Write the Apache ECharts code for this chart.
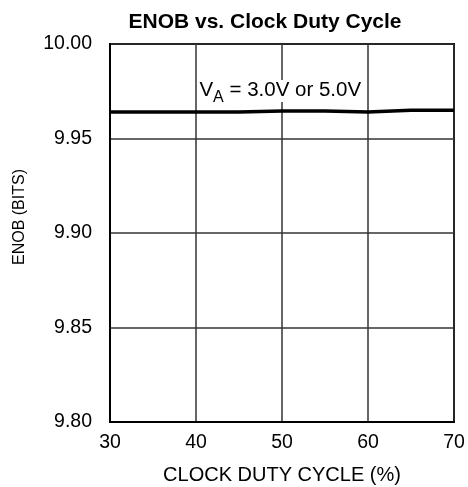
<!DOCTYPE html>
<html><head><meta charset="utf-8">
<script src="https://cdn.jsdelivr.net/npm/echarts@6/dist/echarts.min.js"></script>
<style>html,body{margin:0;padding:0;background:#fff}#c{width:468px;height:487px}</style>
</head><body><div id="c"></div>
<script>
var dutyCycle = [30, 35, 40, 45, 50, 55, 60, 65, 70];
var enob = [9.964, 9.964, 9.964, 9.964, 9.9645, 9.9645, 9.964, 9.965, 9.965];
var xTicks = [30, 40, 50, 60, 70];
var yTicks = ['9.80', '9.85', '9.90', '9.95', '10.00'];
var chart = echarts.init(document.getElementById('c'));
var F = '"Liberation Sans", Arial, sans-serif';
chart.setOption({
  animation: false,
  title: {text: 'ENOB vs. Clock Duty Cycle', left: 260, top: 7, textAlign: 'center',
    textStyle: {fontFamily: F, fontSize: 21, fontWeight: 'bold', color: '#000'}},
  graphic: [{type: 'text', x: 20, y: 217, rotation: Math.PI / 2,
    style: {text: 'ENOB (BITS)', fontFamily: F, fontSize: 16, fill: '#000', align: 'center', verticalAlign: 'middle'}}],
  grid: {left: 110, right: 14, top: 44, bottom: 65, show: true, borderColor: '#000', borderWidth: 2,
    outerBoundsMode: 'none', containLabel: false},
  xAxis: {type: 'value', min: 30, max: 70, interval: 10,
    name: 'CLOCK DUTY CYCLE (%)', nameLocation: 'middle', nameGap: 43,
    nameTextStyle: {fontFamily: F, fontSize: 20, color: '#000'},
    axisLine: {lineStyle: {color: '#000', width: 2}}, axisTick: {show: false},
    axisLabel: {fontFamily: F, fontSize: 19.5, color: '#000', margin: 11,
      formatter: function (v) { return xTicks.indexOf(v) >= 0 ? String(v) : ''; }},
    splitLine: {lineStyle: {color: '#333', width: 1.5}}},
  yAxis: {type: 'value', min: 9.8, max: 10.0, interval: 0.05,
    axisLine: {lineStyle: {color: '#000', width: 2}}, axisTick: {show: false},
    axisLabel: {fontFamily: F, fontSize: 19.5, color: '#000', margin: 18,
      formatter: function (v) { return yTicks[Math.round((v - 9.8) / 0.05)]; }},
    splitLine: {lineStyle: {color: '#333', width: 1.5}}},
  series: [{
    type: 'line', data: dutyCycle.map(function (x, i) { return [x, enob[i]]; }),
    showSymbol: false, lineStyle: {color: '#000', width: 3.5},
    markPoint: {symbol: 'rect', symbolSize: 0, data: [{coord: [49.8, 9.9751], label: {
      show: true, position: 'inside',
      formatter: '{v|V}{s|A}{v| = 3.0V or 5.0V}',
      backgroundColor: '#fff', padding: [0, 1, 0, 1],
      rich: {v: {fontFamily: F, fontSize: 20.5, lineHeight: 22, color: '#000', verticalAlign: 'top'},
             s: {fontFamily: F, fontSize: 16, lineHeight: 16, color: '#000', verticalAlign: 'top', padding: [10, 0, 0, 0]}}
    }}]}
  }]
});
</script></body></html>
